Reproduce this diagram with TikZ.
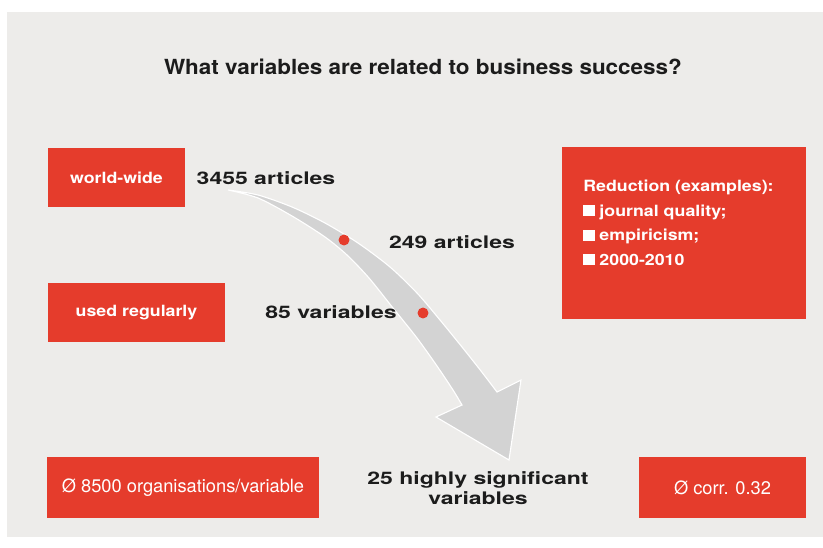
\documentclass[tikz,border=0pt]{standalone}
\usepackage{fontspec}
\setmainfont{TeX Gyre Heros}
\newfontfamily\widefont[FakeStretch=1.33]{TeX Gyre Heros}
\newfontfamily\boxfont[FakeStretch=1.15]{TeX Gyre Heros}
\newfontfamily\titlefont[FakeStretch=1.08]{TeX Gyre Heros}
\usetikzlibrary{positioning}
\definecolor{redbox}{RGB}{229,60,44}
\definecolor{paper}{RGB}{237,236,234}
\definecolor{band}{RGB}{211,211,211}
\definecolor{ink}{RGB}{28,28,28}
\tikzset{box/.style={fill=redbox,text=white,font=\boxfont\bfseries\fontsize{11}{13}\selectfont,inner sep=0pt}}
\tikzset{thinbox/.style={box,font=\fontsize{13}{15}\selectfont}}
\tikzset{lbl/.style={text=ink,font=\widefont\bfseries\fontsize{12.3}{14.2}\selectfont,inner sep=0pt,align=center}}
\tikzset{dot/.style={circle,fill=redbox,inner sep=0pt,minimum size=7.8pt}}

\begin{document}
\begin{tikzpicture}[x=0.025cm,y=-0.025cm]

\useasboundingbox (0,0) rectangle (823,547);
\fill[white] (0,0) rectangle (823,547);
\fill[paper] (7,12) rectangle (823,537);

\node[text=ink,inner sep=0pt,font=\titlefont\bfseries\fontsize{14.8}{17}\selectfont] (title) at (423,67)
  {What variables are related to business success?};

% red boxes
\node[box,minimum width=3.425cm,minimum height=1.475cm] (ww) at (116.5,177.5) {world-wide};
\node[box,minimum width=4.425cm,minimum height=1.475cm] (reg) at (136.5,312.5) {used regularly};
\node[thinbox,minimum width=6.8cm,minimum height=1.525cm] (org) at (183,487.5) {Ø 8500 organisations/variable};
\node[thinbox,minimum width=4.175cm,minimum height=1.525cm] (corr) at (722.5,487.5) {Ø corr. 0.32};
\node[box,minimum width=6.1cm,minimum height=4.3cm] (red) at (684,233) {};
\node[box,fill=none,anchor=west,align=left,font=\boxfont\bfseries\fontsize{11}{17.4}\selectfont] (redtext) at (583,223)
  {Reduction (examples):\\ \rule{8pt}{8pt} journal quality;\\ \rule{8pt}{8pt} empiricism;\\ \rule{8pt}{8pt} 2000-2010};

% the curved arrow
\fill[band,draw=white,line width=0.8pt]
  plot[smooth] coordinates {(228,190) (258,195) (292,207) (325,223) (358,243) (390,267) (417,293) (440,320) (462,347) (481,371) (497,392)}
  -- (521,380) -- (509,460) -- (436,417)
  -- plot[smooth] coordinates {(462,405) (453,390) (437,366) (417,338) (393,308) (369,278) (347,255) (325,237) (292,216) (258,198) (228,190)}
  -- cycle;

\node[dot] (d1) at (344,240) {};
\node[dot] (d2) at (423,313) {};

\node[lbl] (a1) at (266,178) {3455 articles};
\node[lbl] (a2) at (452,242) {249 articles};
\node[lbl] (v1) at (331,312) {85 variables};
\node[lbl] (v2) at (478,488) {25 highly significant\\variables};

\end{tikzpicture}
\end{document}
